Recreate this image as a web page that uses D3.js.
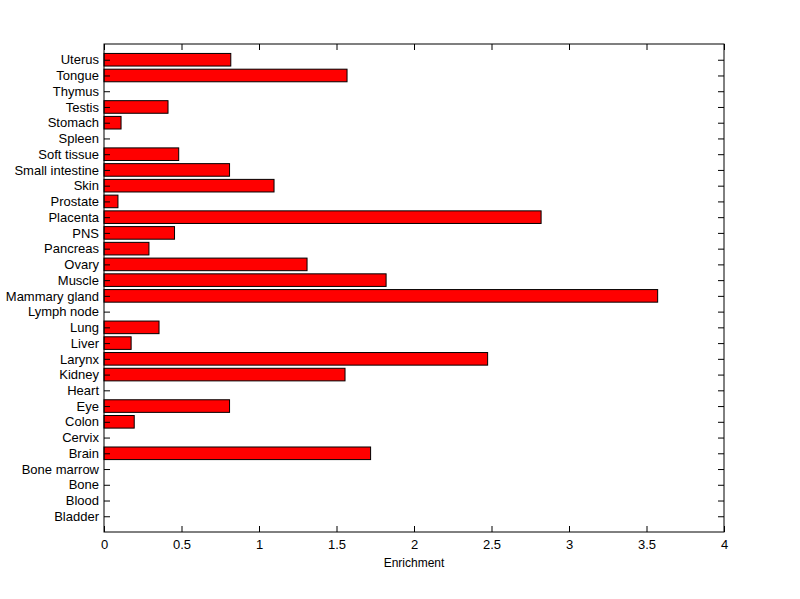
<!DOCTYPE html>
<html><head><meta charset="utf-8">
<script src="https://cdn.jsdelivr.net/npm/d3@7"></script>
<style>body{margin:0;background:#fff;} svg{display:block;} text{font-family:"Liberation Sans",Arial,sans-serif;}</style>
</head><body>
<svg id="c" width="800" height="599"></svg>
<script>
const categories = ["Bladder","Blood","Bone","Bone marrow","Brain","Cervix","Colon","Eye","Heart","Kidney","Larynx","Liver","Lung","Lymph node","Mammary gland","Muscle","Ovary","Pancreas","PNS","Placenta","Prostate","Skin","Small intestine","Soft tissue","Spleen","Stomach","Testis","Thymus","Tongue","Uterus"];
const values = [0,0,0,0,1.72,0,0.195,0.81,0,1.555,2.475,0.175,0.355,0,3.572,1.82,1.31,0.29,0.455,2.82,0.09,1.097,0.81,0.482,0,0.11,0.413,0,1.568,0.818];
const xTicks = [0,0.5,1,1.5,2,2.5,3,3.5,4];
const xLabel = "Enrichment";

const L=104,R=724,T=44,B=532;
const svg=d3.select("#c");
const x=d3.scaleLinear().domain([0,4]).range([L,R]);
const y=d3.scaleLinear().domain([0,categories.length+1]).range([B,T]);
const bw=(y(0)-y(1))*0.8;

svg.append("rect").attr("x",0).attr("y",0).attr("width",800).attr("height",599).attr("fill","#fff");

svg.append("g").selectAll("rect").data(values).join("rect")
  .attr("x",x(0)).attr("y",(d,i)=>y(i+1)-bw/2)
  .attr("width",d=>x(d)-x(0)).attr("height",bw)
  .attr("fill","#ff0000").attr("stroke","#000").attr("stroke-width",1);

const tl=6;
// bottom axis
const xb=svg.append("g").attr("transform",`translate(0,${B})`)
  .call(d3.axisBottom(x).tickValues(xTicks).tickFormat(d=>String(d)).tickSizeInner(-tl).tickSizeOuter(0).tickPadding(8));
// top ticks
const xt=svg.append("g").attr("transform",`translate(0,${T})`)
  .call(d3.axisTop(x).tickValues(xTicks).tickFormat("").tickSizeInner(-tl).tickSizeOuter(0));
// left axis
const yl=svg.append("g").attr("transform",`translate(${L},0)`)
  .call(d3.axisLeft(y).tickValues(d3.range(1,categories.length+1)).tickFormat(d=>categories[d-1]).tickSizeInner(-tl).tickSizeOuter(0).tickPadding(5));
const yr=svg.append("g").attr("transform",`translate(${R},0)`)
  .call(d3.axisRight(y).tickValues(d3.range(1,categories.length+1)).tickFormat("").tickSizeInner(-tl).tickSizeOuter(0));
[xb,xt,yl,yr].forEach(g=>{
  g.select(".domain").remove();
  g.selectAll("line").attr("stroke","#000");
  g.selectAll("text").attr("fill","#000").style("font-size","13px").style("font-family","'Liberation Sans',Arial,sans-serif");
});
svg.append("rect").attr("x",L).attr("y",T).attr("width",R-L).attr("height",B-T)
  .attr("fill","none").attr("stroke","#000").attr("stroke-width",1);

svg.append("text").attr("x",(L+R)/2).attr("y",567).attr("text-anchor","middle")
  .style("font-size","12px").attr("fill","#000").text(xLabel);
</script>
</body></html>
